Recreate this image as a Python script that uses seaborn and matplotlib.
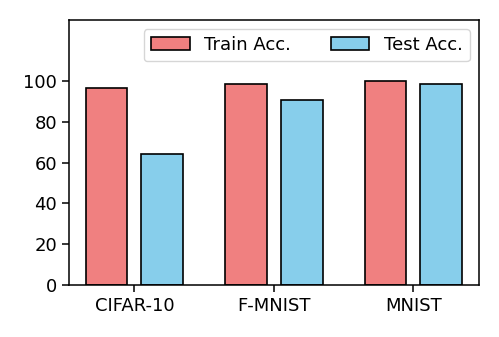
import matplotlib
matplotlib.use("Agg")
import matplotlib.pyplot as plt
import seaborn as sns
import pandas as pd

datasets = ["CIFAR-10", "F-MNIST", "MNIST"]
train_acc = [96.4, 98.5, 100.0]
test_acc = [64.2, 90.5, 98.7]
series = ["Train Acc.", "Test Acc."]
colors = ["lightcoral", "skyblue"]

df = pd.DataFrame({
    "Dataset": datasets * 2,
    "Accuracy": train_acc + test_acc,
    "Series": [series[0]] * 3 + [series[1]] * 3,
})

fig = plt.figure(figsize=(4.99, 3.37), dpi=100)
ax = fig.add_axes([0.138, 0.154, 0.822, 0.787])
sns.barplot(data=df, x="Dataset", y="Accuracy", hue="Series", hue_order=series,
            palette=colors, saturation=1, width=0.8, gap=0.25,
            edgecolor="black", linewidth=1.2, ax=ax, errorbar=None)
ax.set_xlim(-0.47, 2.47)
ax.set_ylim(0, 130)
ax.set_yticks([0, 20, 40, 60, 80, 100])
ax.set_xlabel("")
ax.set_ylabel("")
ax.tick_params(labelsize=13, length=5, width=1.1)
for s in ax.spines.values():
    s.set_visible(True)
    s.set_color("black")
    s.set_linewidth(1.1)
ax.legend(loc="upper right", ncol=2, fontsize=13, columnspacing=2.2,
          handlelength=2.15)
fig.savefig("out.png", dpi=100)
